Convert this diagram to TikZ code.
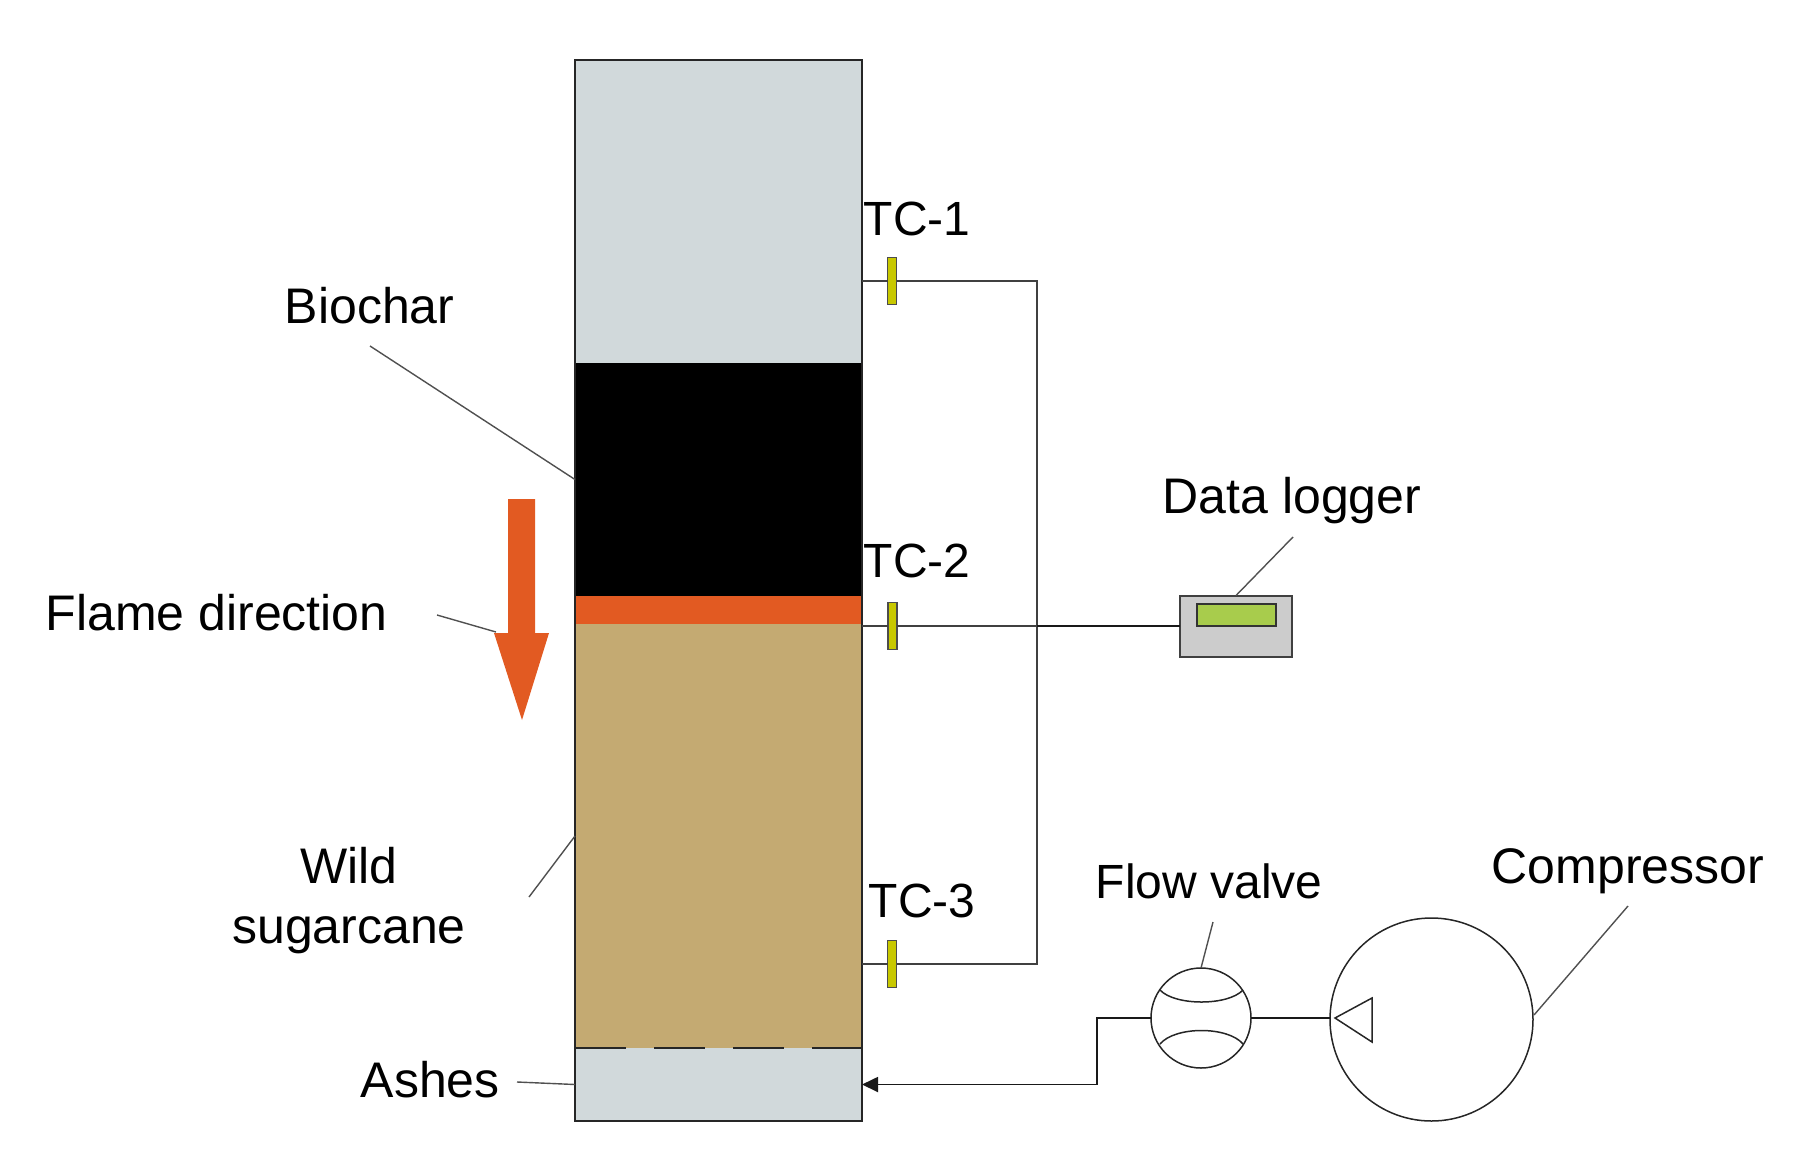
\documentclass[tikz,border=0pt]{standalone}
\usepackage{fontspec}
\setmainfont{Liberation Sans}
\usetikzlibrary{arrows.meta}
\definecolor{ashgray}{HTML}{D1D9DB}
\definecolor{canetan}{HTML}{C4AA72}
\definecolor{flameorange}{HTML}{E25A22}
\definecolor{probeyellow}{HTML}{C8C800}
\definecolor{screengreen}{HTML}{A8CC4C}
\definecolor{loggergray}{HTML}{CCCCCC}
\definecolor{leadergray}{HTML}{505050}
\begin{document}
\begin{tikzpicture}
[x=0.5pt,y=-0.5pt,line width=0.75pt,>={Triangle[length=8pt,width=7.5pt]}]
\tikzstyle{layer}=[rectangle,draw=none,inner sep=0pt,outer sep=0pt,minimum width=143.5pt]
\tikzstyle{probe}=[rectangle,draw=black!70,line width=0.9pt,fill=probeyellow,inner sep=0pt,outer sep=0pt,minimum width=4.5pt,minimum height=23.5pt]
\tikzstyle{label}=[inner sep=0pt,font=\fontsize{25}{30}\selectfont,text=black]
\tikzstyle{tclabel}=[inner sep=0pt,font=\fontsize{24}{30}\selectfont,text=black]
\tikzstyle{leader}=[draw=leadergray,line width=0.7pt]
\tikzstyle{round}=[circle,draw=black!85,inner sep=0pt,outer sep=0pt]
\useasboundingbox (0,0) rectangle (1793,1162);

% column
\node[layer,fill=ashgray,minimum height=151.5pt] (free) at (718.5,211.5) {};
\node[layer,fill=black,minimum height=116.5pt] (biochar) at (718.5,479.5) {};
\node[layer,fill=flameorange,minimum height=14pt] (front) at (718.5,610) {};
\node[layer,fill=canetan,minimum height=212pt] (cane) at (718.5,836) {};
\node[layer,fill=ashgray,minimum height=36.5pt] (ash) at (718.5,1084.5) {};
\node[layer,draw=black!85,minimum height=530.5pt] (column) at (718.5,590.5) {};
\draw[black!85,line width=1.1pt,dash pattern=on 25.5pt off 14pt] (ash.north west) -- (ash.north east);

% flame arrow
\fill[flameorange] (508,499) -- (535,499) -- (535,633) -- (549,633) -- (522,720)
  -- (494,633) -- (508,633) -- cycle;
\coordinate (flamehead) at (496,632);

% thermocouples
\coordinate (tap1) at (862,281);
\coordinate (tap2) at (862,626);
\coordinate (tap3) at (862,964);
\coordinate (bend1) at (1037,281);
\coordinate (bend2) at (1037,626);
\coordinate (bend3) at (1037,964);
\node[probe] (tc1) at (892,281) {};
\node[probe] (tc2) at (892.5,626) {};
\node[probe] (tc3) at (892,964) {};
\node[rectangle,draw=black!75,line width=1pt,fill=loggergray,inner sep=0pt,outer sep=0pt,minimum width=56pt,minimum height=30.5pt] (logger) at (1236,626) {};
\node[rectangle,draw=black!80,line width=1pt,fill=screengreen,inner sep=0pt,minimum width=39.5pt,minimum height=11pt] (screen) at (1236.5,615) {};
\path[draw=black!75]
(tap1) edge (tc1)
(tap2) edge (tc2)
(tap3) edge (tc3)
(tc2) edge (bend2)
(tc1) -- (bend1) -- (bend3) -- (tc3);
\draw[black!90,line width=1.4pt] (bend2) -- (logger.west);

% air line
\node[round,minimum size=50pt] (valve) at (1201,1018) {};
\node[round,minimum size=101.5pt] (compressor) at (1431.5,1019.5) {};
\coordinate (riser) at (1097,1018);
\coordinate (foot) at (1097,1084.5);
\coordinate (inlet) at (1330,1018);
\draw[black!90,line width=0.9pt] (valve.west) -- (riser) -- (foot);
\draw[->,black!90,line width=0.9pt] (foot) -- (ash.east);
\draw[black!90,line width=0.9pt] (valve.east) -- (inlet);
\draw[black!85] (1160,990) .. controls (1175,1006) and (1228,1006) .. (1243,990);
\draw[black!85] (1160,1044) .. controls (1175,1026) and (1228,1026) .. (1243,1044);
\draw[black!85] (1372,998) -- (1335,1018) -- (1372,1042) -- cycle;

% labels
\node[label,anchor=base west] (biocharlab) at (284,323) {Biochar};
\node[label,anchor=base west] (flamelab) at (45,630) {Flame direction};
\node[label,align=center] (canelab) at (349,901) {Wild\\sugarcane};
\node[label,anchor=base west] (ashlab) at (360,1097) {Ashes};
\node[tclabel,anchor=base west] (tc1lab) at (863,235) {TC-1};
\node[tclabel,anchor=base west] (tc2lab) at (863,577) {TC-2};
\node[tclabel,anchor=base west] (tc3lab) at (868,917) {TC-3};
\node[label,anchor=base west] (loggerlab) at (1162,513) {Data logger};
\node[tclabel,anchor=base west] (valvelab) at (1095,898) {Flow valve};
\node[label,anchor=base west] (compressorlab) at (1491,883) {Compressor};

% leaders
\coordinate (biocharend) at (370,346);
\coordinate (flameend) at (437,615);
\coordinate (caneend) at (529,897);
\coordinate (ashend) at (517,1082);
\coordinate (loggerend) at (1293,537);
\coordinate (valveend) at (1213,922);
\coordinate (compressorend) at (1628,906);
\coordinate (compressoredge) at (1534,1015);
\path[leader]
(biocharend) edge (biochar.west)
(flameend) edge (flamehead)
(caneend) edge (cane.west)
(ashend) edge (ash.west)
(loggerend) edge (logger.north)
(valveend) edge (valve.north)
(compressorend) edge (compressoredge);
\end{tikzpicture}
\end{document}
